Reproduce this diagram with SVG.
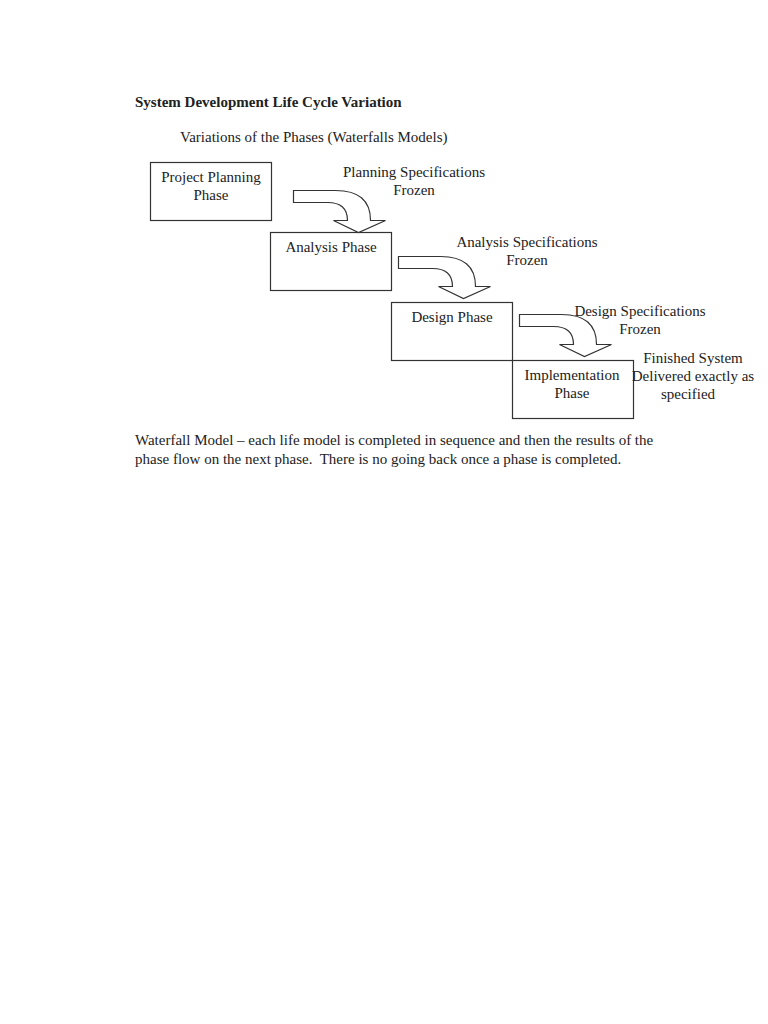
<svg xmlns="http://www.w3.org/2000/svg" width="768" height="1024" viewBox="0 0 768 1024">
<style>
text{font-family:"Liberation Serif","Times New Roman",serif;font-size:15px;fill:#222}
.b{font-weight:bold}
.m{text-anchor:middle}
.box{fill:#fff;stroke:#333;stroke-width:1.2}
.arr{fill:#fff;stroke:#333;stroke-width:1.2;stroke-linejoin:miter}
</style>
<defs>
<path id="bent" d="M0,0 L42,0 Q77,0 77,30 L92,30 L65,42 L40,30 L54,30 Q54,12 34,12 L0,12 Z"/>
</defs>
<rect width="768" height="1024" fill="#fff"/>
<text class="b" x="135" y="107">System Development Life Cycle Variation</text>
<text x="180" y="142">Variations of the Phases (Waterfalls Models)</text>
<g id="n1"><rect class="box" x="150.5" y="162.5" width="121" height="58"/><text class="m" x="211" y="182">Project Planning</text><text class="m" x="211" y="200">Phase</text></g>
<g id="n2"><rect class="box" x="270.5" y="232.5" width="121" height="58"/><text class="m" x="331" y="252">Analysis Phase</text></g>
<g id="n3"><rect class="box" x="391.5" y="302.5" width="121" height="58"/><text class="m" x="452" y="322">Design Phase</text></g>
<g id="n4"><rect class="box" x="512.5" y="360.5" width="121" height="58"/><text class="m" x="572" y="380">Implementation</text><text class="m" x="572" y="398">Phase</text></g>
<g id="connectors">
<use href="#bent" class="arr" transform="translate(293.5,190.5)"/>
<use href="#bent" class="arr" transform="translate(398.5,256.5)"/>
<use href="#bent" class="arr" transform="translate(519.5,314.5)"/>
</g>
<g id="labels">
<text class="m" x="414" y="177">Planning Specifications</text><text class="m" x="414" y="195">Frozen</text>
<text class="m" x="527" y="247">Analysis Specifications</text><text class="m" x="527" y="265">Frozen</text>
<text class="m" x="640" y="316">Design Specifications</text><text class="m" x="640" y="334">Frozen</text>
<text class="m" x="693" y="363">Finished System</text><text class="m" x="693" y="381">Delivered exactly as</text><text class="m" x="688" y="399">specified</text>
</g>
<text x="135" y="445">Waterfall Model – each life model is completed in sequence and then the results of the</text>
<text x="135" y="464" xml:space="preserve">phase flow on the next phase.  There is no going back once a phase is completed.</text>
</svg>
